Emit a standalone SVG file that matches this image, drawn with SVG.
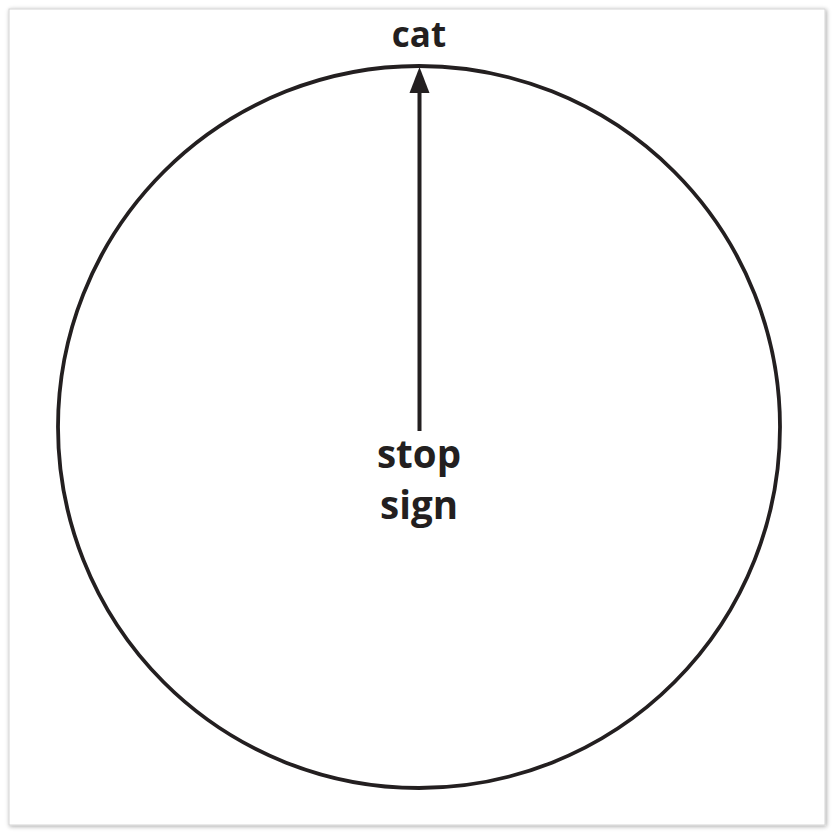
<svg xmlns="http://www.w3.org/2000/svg" width="833" height="833" viewBox="0 0 833 833">
<defs>
<filter id="shadow" x="-5%" y="-5%" width="110%" height="110%">
<feDropShadow dx="1" dy="1" stdDeviation="2.2" flood-color="#000" flood-opacity="0.35"/>
</filter>
<style>
.lbl{font-family:"Open Sans","Noto Sans","DejaVu Sans",sans-serif;font-weight:700;fill:#231f20;text-anchor:middle}
</style>
</defs>
<rect x="0" y="0" width="833" height="833" fill="#fff"/>
<rect x="9" y="9" width="816" height="816" fill="#fff" stroke="#d4d4d4" stroke-width="1" filter="url(#shadow)"/>
<g id="circle-node">
<circle cx="419" cy="427" r="361" fill="none" stroke="#231f20" stroke-width="3.8"/>
</g>
<g id="connectors">
<line x1="419.5" y1="431" x2="419.5" y2="92" stroke="#231f20" stroke-width="4"/>
<path d="M409.5,93 L419.5,67 L429.5,93 Z" fill="#231f20"/>
</g>
<g id="cat-node">
<text class="lbl" x="419" y="47" font-size="35">cat</text>
</g>
<g id="stop-sign-node">
<text class="lbl" x="419" y="468" font-size="38.5">stop</text>
<text class="lbl" x="419" y="519" font-size="38.5">sign</text>
</g>
</svg>
